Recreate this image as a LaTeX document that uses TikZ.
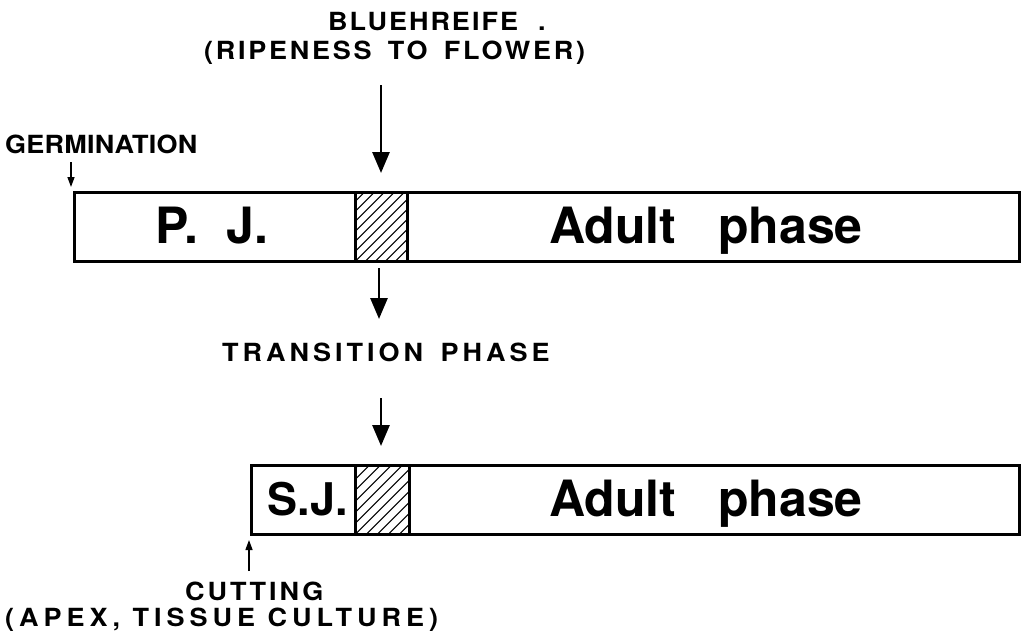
\documentclass[tikz,border=0pt]{standalone}
\usepackage{fontspec}
\setmainfont{TeX Gyre Heros}
\usetikzlibrary{arrows.meta}
\newcommand{\lsp}[2]{{\addfontfeature{LetterSpace=#1,FakeStretch=1.08}#2}}
\begin{document}
\begin{tikzpicture}[x=1pt,y=-1pt,
  bar/.style={draw, line width=2.6pt, inner sep=0pt, anchor=north west},
  hatchA/.style={draw, line width=2.6pt, inner sep=0pt, anchor=north west,
    path picture={\foreach \i in {-90,-80,...,90}{\draw[line width=1.1pt]
      ([xshift=\i pt]path picture bounding box.south west) -- ++(90pt,90pt);}}},
  hatchB/.style={draw, line width=2.6pt, inner sep=0pt, anchor=north west,
    path picture={\foreach \i in {-88,-77,...,88}{\draw[line width=1.1pt]
      ([xshift=\i pt]path picture bounding box.south west) -- ++(90pt,90pt);}}},
  big/.style={anchor=base, inner sep=0pt, font=\fontsize{50}{50}\selectfont\bfseries},
  lab/.style={anchor=base west, inner sep=0pt, font=\fontsize{25}{25}\selectfont\bfseries},
  thick arrow/.style={line width=2.8pt, -{Triangle[width=17pt,length=21pt]}},
  thin arrow/.style={line width=1.3pt, -{Triangle[width=7pt,length=10pt]}}
]
\useasboundingbox (0,0) rectangle (1026,641);
% bars
\node[bar, minimum width=945pt, minimum height=69pt] (bar1) at (73,191) {};
\node[hatchA, minimum width=52pt, minimum height=69pt] (h1) at (354,191) {};
\node[bar, minimum width=768pt, minimum height=69pt] (bar2) at (250,464) {};
\node[hatchB, minimum width=54pt, minimum height=69pt] (h2) at (354,464) {};
% bar texts
\node[big] (pj) at (212,243) {P.\hspace{28pt}J.};
\node[big] (ad1) at (706,243) {Adult\hspace{42pt}phase};
\node[big, font=\fontsize{45}{45}\selectfont\bfseries] (sj) at (308,515) {S.J.};
\node[big] (ad2) at (706,516) {Adult\hspace{42pt}phase};
% labels
\node[lab] (blue) at (328,30) {\lsp{8}{BLUEHREIFE\hspace{20pt}.}};
\node[lab] (ripe) at (204,59) {\lsp{11}{(RIPENESS\hspace{6pt} TO\hspace{6pt} FLOWER)}};
\node[lab] (germ) at (5,153) {\lsp{1}{GERMINATION}};
\node[lab] (trans) at (222,361) {\lsp{16}{TRANSITION\hspace{6pt} PHASE}};
\node[lab] (cut) at (185,600) {\lsp{12}{CUTTING}};
\node[lab] (apex) at (5,626) {\lsp{20}{(APEX, TISSUE CULTURE)}};
% arrow coordinates
\coordinate (a1s) at (381,85);   \coordinate (a1e) at (381,173);
\coordinate (a2s) at (379,268);  \coordinate (a2e) at (379,319);
\coordinate (a3s) at (381,398);  \coordinate (a3e) at (381,446);
\coordinate (gs) at (71,162);    \coordinate (ge) at (71,187);
\coordinate (cs) at (249,571);   \coordinate (ce) at (249,540);
\draw[thick arrow] (a1s) -- (a1e);
\draw[thick arrow] (a2s) -- (a2e);
\draw[thick arrow] (a3s) -- (a3e);
\draw[thin arrow] (gs) -- (ge);
\draw[thin arrow] (cs) -- (ce);
\end{tikzpicture}
\end{document}
